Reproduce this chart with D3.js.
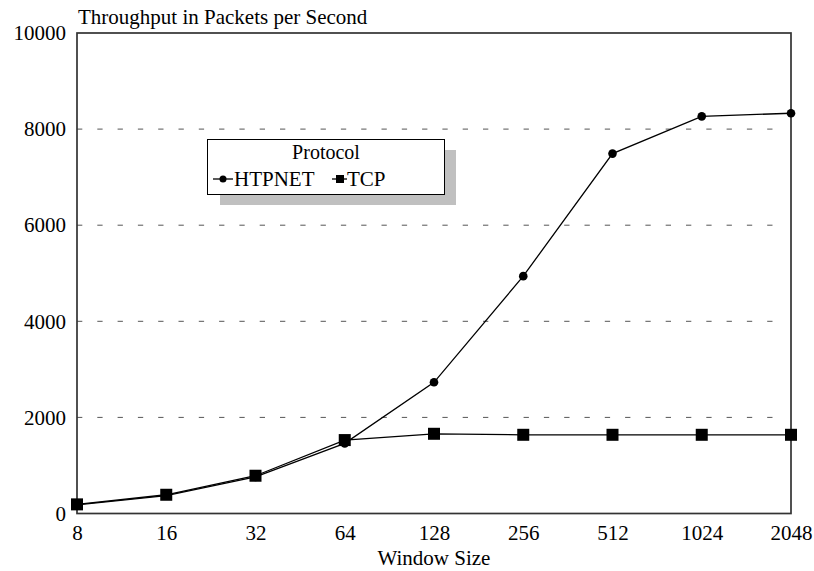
<!DOCTYPE html>
<html>
<head>
<meta charset="utf-8">
<script src="https://cdn.jsdelivr.net/npm/d3@7/dist/d3.min.js"></script>
<style>
  html, body { margin: 0; padding: 0; background: #fff; }
  svg { display: block; }
  text { font-family: "Liberation Serif", "Times New Roman", serif; fill: #000; }
</style>
</head>
<body>
<svg id="chart" width="814" height="571"></svg>
<script>
// Window sizes on the x axis
const windowSizes = ["8", "16", "32", "64", "128", "256", "512", "1024", "2048"];
// Throughput (packets per second) per protocol
const htpnetValues = [180, 370, 760, 1460, 2730, 4940, 7490, 8265, 8330];
const tcpValues = [190, 390, 786, 1528, 1659, 1638, 1638, 1638, 1638];
const yTicks = [0, 2000, 4000, 6000, 8000, 10000];
const gridValues = [2000, 4000, 6000, 8000];
const seriesNames = ["HTPNET", "TCP"];

const svg = d3.select("#chart");
const plot = { left: 77, right: 791, top: 33, bottom: 513.5 };

const x = d3.scalePoint().domain(windowSizes).range([plot.left, plot.right]);
const y = d3.scaleLinear().domain([0, 10000]).range([plot.bottom, plot.top]);

// Dashed horizontal gridlines
svg.append("g").selectAll("line").data(gridValues).join("line")
  .attr("x1", plot.left).attr("x2", plot.right - 6)
  .attr("y1", d => y(d)).attr("y2", d => y(d))
  .attr("stroke", "#555").attr("stroke-width", 1)
  .attr("stroke-dasharray", "5.3,15");

// Frame around the plot
svg.append("rect")
  .attr("x", plot.left).attr("y", plot.top)
  .attr("width", plot.right - plot.left).attr("height", plot.bottom - plot.top)
  .attr("fill", "none").attr("stroke", "#333").attr("stroke-width", 1.7);

// Y axis labels
const yAxis = d3.axisLeft(y).tickValues(yTicks).tickSize(0).tickPadding(11).tickFormat(d3.format("d"));
const gy = svg.append("g").attr("transform", `translate(${plot.left},0)`).call(yAxis);
gy.select(".domain").remove();
gy.selectAll("text").style("font-size", "21px").style("font-family", "Liberation Serif, serif");

// X axis labels
const xAxis = d3.axisBottom(x).tickSize(0).tickPadding(12);
const gx = svg.append("g").attr("transform", `translate(0,${plot.bottom})`).call(xAxis);
gx.select(".domain").remove();
gx.selectAll("text").style("font-size", "21px").style("font-family", "Liberation Serif, serif");

// Axis titles
svg.append("text").attr("x", 78).attr("y", 24)
  .style("font-size", "21px").text("Throughput in Packets per Second");
svg.append("text").attr("x", (plot.left + plot.right) / 2).attr("y", 565)
  .attr("text-anchor", "middle").style("font-size", "21px").text("Window Size");

// Series lines
const line = d3.line().x((d, i) => x(windowSizes[i])).y(d => y(d));
svg.append("path").datum(htpnetValues).attr("d", line)
  .attr("fill", "none").attr("stroke", "#000").attr("stroke-width", 1.3);
svg.append("path").datum(tcpValues).attr("d", line)
  .attr("fill", "none").attr("stroke", "#000").attr("stroke-width", 1.3);

// Markers: circles for HTPNET, squares for TCP
svg.append("g").selectAll("circle").data(htpnetValues).join("circle")
  .attr("cx", (d, i) => x(windowSizes[i])).attr("cy", d => y(d))
  .attr("r", 4.3).attr("fill", "#000");
const sq = 12;
svg.append("g").selectAll("rect").data(tcpValues).join("rect")
  .attr("x", (d, i) => x(windowSizes[i]) - sq / 2).attr("y", d => y(d) - sq / 2)
  .attr("width", sq).attr("height", sq).attr("fill", "#000");

// Legend with drop shadow
const lg = svg.append("g");
lg.append("rect").attr("x", 220).attr("y", 150).attr("width", 236).attr("height", 55).attr("fill", "#c0c0c0");
lg.append("rect").attr("x", 207.5).attr("y", 139.5).attr("width", 237).attr("height", 55)
  .attr("fill", "#fff").attr("stroke", "#000").attr("stroke-width", 1);
lg.append("text").attr("x", 326).attr("y", 159).attr("text-anchor", "middle")
  .style("font-size", "20px").text("Protocol");
// HTPNET entry
lg.append("line").attr("x1", 213).attr("x2", 233).attr("y1", 179).attr("y2", 179).attr("stroke", "#000").attr("stroke-width", 1.3);
lg.append("circle").attr("cx", 223).attr("cy", 179).attr("r", 3.5).attr("fill", "#000");
lg.append("text").attr("x", 234).attr("y", 186).style("font-size", "21px").text(seriesNames[0]);
// TCP entry
lg.append("line").attr("x1", 332).attr("x2", 347).attr("y1", 179).attr("y2", 179).attr("stroke", "#000").attr("stroke-width", 1.3);
lg.append("rect").attr("x", 336).attr("y", 175).attr("width", 8).attr("height", 8).attr("fill", "#000");
lg.append("text").attr("x", 347).attr("y", 186).style("font-size", "21px").text(seriesNames[1]);
</script>
</body>
</html>
